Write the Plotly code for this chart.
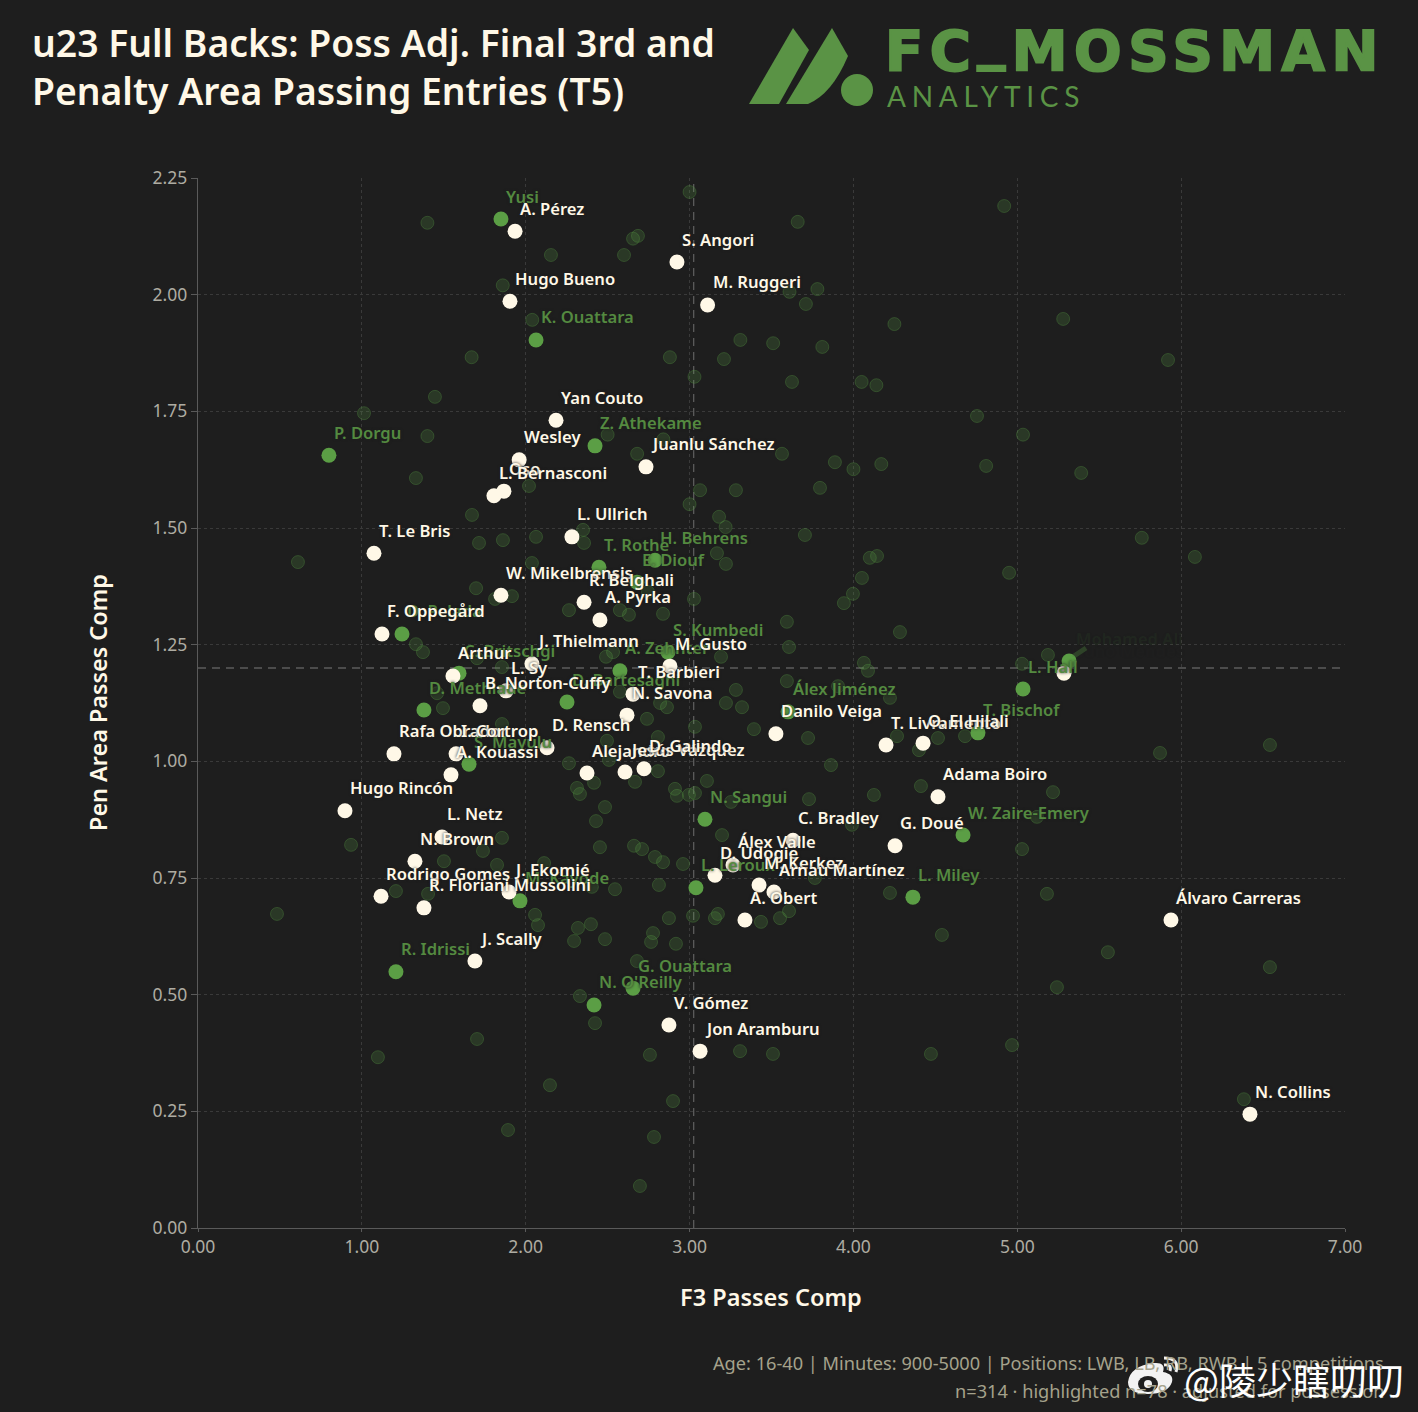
import plotly.graph_objects as go

# players who are not highlighted
bg_x = [3.00, 4.92, 3.66, 1.40, 2.685, 2.655, 2.154, 2.60, 1.86, 3.78, 3.61, 3.71, 5.28, 2.04, 4.25, 3.31, 3.51, 3.81,
        1.67, 2.88, 3.21, 5.92, 3.03, 3.625, 4.05, 4.14, 1.446, 1.013, 4.754, 1.40, 2.50, 5.035, 2.84, 2.68, 3.564,
        3.887, 4.17, 4.81, 4.0, 5.39, 1.33, 2.02, 3.796, 3.064, 3.283, 3.0, 1.672, 3.18, 3.22, 2.35, 3.704, 5.76,
        2.063, 1.861, 1.715, 2.356, 3.167, 4.144, 4.10, 6.084, 0.61, 2.038, 3.222, 4.95, 4.052, 1.697, 2.746, 3.997,
        1.916, 3.027, 1.813, 3.942, 2.264, 2.575, 2.838, 2.63, 3.594, 4.284, 1.33, 3.607, 1.373, 2.533, 5.187, 2.49,
        3.192, 1.703, 4.064, 5.029, 1.855, 4.089, 3.594, 3.906, 3.283, 2.575, 1.459, 4.223, 2.82, 3.222, 2.862, 3.32,
        1.495, 2.74, 1.855, 3.033, 3.393, 2.807, 4.266, 4.516, 4.681, 2.496, 3.723, 6.542, 4.40, 5.871, 2.508, 2.264,
        3.863, 2.807, 3.106, 2.667, 2.417, 4.412, 2.313, 2.911, 5.218, 3.033, 2.331, 2.996, 4.125, 2.923, 3.729, 3.253,
        2.484, 5.12, 2.429, 3.991, 3.198, 1.855, 0.934, 2.453, 2.661, 2.71, 5.029, 1.739, 2.789, 1.501, 2.838, 2.112,
        2.96, 1.825, 3.765, 2.813, 2.404, 2.545, 1.208, 4.223, 1.404, 5.181, 3.607, 0.482, 3.173, 2.057, 3.021, 2.874,
        3.155, 3.552, 3.436, 2.398, 2.075, 2.319, 2.777, 4.54, 2.484, 2.295, 2.765, 2.917, 5.553, 2.679, 6.542, 5.242,
        2.331, 2.423, 1.703, 4.968, 3.308, 3.509, 4.473, 2.758, 1.098, 2.148, 6.383, 2.899, 1.892, 2.783, 2.697]
bg_y = [2.22, 2.19, 2.156, 2.154, 2.126, 2.12, 2.085, 2.085, 2.02, 2.012, 2.006, 1.98, 1.948, 1.946, 1.937, 1.903, 1.896,
        1.888, 1.866, 1.866, 1.862, 1.86, 1.824, 1.813, 1.813, 1.806, 1.781, 1.746, 1.74, 1.697, 1.70, 1.70, 1.69, 1.659,
        1.659, 1.641, 1.637, 1.633, 1.626, 1.618, 1.607, 1.59, 1.586, 1.581, 1.581, 1.551, 1.528, 1.524, 1.502, 1.496,
        1.485, 1.479, 1.481, 1.474, 1.468, 1.468, 1.446, 1.44, 1.436, 1.438, 1.427, 1.425, 1.423, 1.404, 1.393, 1.371,
        1.363, 1.359, 1.354, 1.348, 1.348, 1.339, 1.324, 1.324, 1.316, 1.314, 1.299, 1.277, 1.251, 1.245, 1.234, 1.234,
        1.228, 1.224, 1.224, 1.221, 1.211, 1.209, 1.202, 1.194, 1.172, 1.161, 1.153, 1.149, 1.146, 1.136, 1.125, 1.125,
        1.116, 1.116, 1.114, 1.091, 1.08, 1.074, 1.069, 1.052, 1.054, 1.05, 1.054, 1.044, 1.05, 1.035, 1.024, 1.018,
        1.003, 0.996, 0.992, 0.979, 0.958, 0.956, 0.954, 0.947, 0.943, 0.941, 0.934, 0.932, 0.93, 0.928, 0.928, 0.926,
        0.919, 0.913, 0.902, 0.881, 0.872, 0.864, 0.842, 0.836, 0.821, 0.816, 0.819, 0.812, 0.812, 0.808, 0.795, 0.786,
        0.784, 0.782, 0.78, 0.778, 0.75, 0.735, 0.731, 0.726, 0.722, 0.718, 0.716, 0.716, 0.679, 0.673, 0.673, 0.671,
        0.669, 0.664, 0.664, 0.664, 0.656, 0.651, 0.649, 0.643, 0.632, 0.628, 0.619, 0.615, 0.613, 0.609, 0.591, 0.572,
        0.559, 0.516, 0.497, 0.439, 0.405, 0.392, 0.379, 0.373, 0.373, 0.371, 0.366, 0.306, 0.276, 0.272, 0.21, 0.195, 0.09]

# highlighted, cream
white_names = ["A. Pérez", "S. Angori", "M. Ruggeri", "Hugo Bueno", "Yan Couto", "Wesley", "Juanlu Sánchez", "Oso",
               "L. Bernasconi", "L. Ullrich", "T. Le Bris", "W. Mikelbrensis", "R. Belghali", "A. Pyrka", "F. Oppegård",
               "J. Thielmann", "M. Gusto", "Arthur", "L. Sy", "B. Norton-Cuffy", "T. Barbieri", "N. Savona", "D. Rensch",
               "Rafa Obrador", "I. Cortrop", "A. Kouassi", "Alejandro", "Jesús Vázquez", "D. Galindo", "Danilo Veiga",
               "T. Livramento", "O. El Hilali", "Adama Boiro", "C. Bradley", "G. Doué", "Álex Valle", "D. Udogie",
               "M. Kerkez", "Arnau Martínez", "A. Obert", "Álvaro Carreras", "N. Collins", "Hugo Rincón", "L. Netz",
               "N. Brown", "Rodrigo Gomes", "R. Floriani Mussolini", "J. Ekomié", "J. Scally", "V. Gómez", "Jon Aramburu"]
white_x = [1.935, 2.923, 3.11, 1.904, 2.185, 1.96, 2.734, 1.867, 1.806, 2.282, 1.074, 1.849, 2.356, 2.453, 1.123, 2.038,
           2.88, 1.556, 1.88, 1.721, 2.655, 2.618, 2.13, 1.196, 1.575, 1.544, 2.374, 2.606, 2.722, 3.527, 4.199, 4.425,
           4.516, 3.631, 4.254, 3.265, 3.155, 3.424, 3.515, 3.338, 5.938, 6.42, 0.897, 1.489, 1.324, 1.117, 1.379, 1.898,
           1.69, 2.874, 3.064]
white_y = [2.136, 2.07, 1.978, 1.986, 1.731, 1.646, 1.631, 1.579, 1.569, 1.481, 1.446, 1.356, 1.341, 1.303, 1.273, 1.209,
           1.204, 1.183, 1.151, 1.119, 1.144, 1.099, 1.029, 1.016, 1.016, 0.971, 0.975, 0.977, 0.984, 1.059, 1.035, 1.039,
           0.924, 0.831, 0.819, 0.778, 0.756, 0.735, 0.72, 0.66, 0.66, 0.244, 0.894, 0.838, 0.786, 0.711, 0.686, 0.72,
           0.572, 0.435, 0.379]

# highlighted, green
green_names = ["Yusi", "K. Ouattara", "P. Dorgu", "Z. Athekame", "H. Behrens", "T. Rothe", "E. Diouf", "D. Pelada",
               "C. Britschgi", "D. Methlade", "S. Kumbedi", "A. Zehnter", "D. Bartesaghi", "Álex Jiménez", "S. Mayulu",
               "M. Kayode", "N. Sangui", "L. Leroux", "L. Miley", "W. Zaire-Emery", "T. Bischof", "L. Hall", "R. Idrissi",
               "G. Ouattara", "N. O'Reilly"]
green_x = [1.849, 2.063, 0.799, 2.423, 2.789, 2.447, 2.679, 1.245, 1.593, 1.379, 2.868, 2.575, 2.252, 3.601, 1.654, 1.965,
           3.094, 3.039, 4.363, 4.669, 4.76, 5.035, 1.208, 2.655, 2.417]
green_y = [2.162, 1.903, 1.656, 1.676, 1.431, 1.416, 1.384, 1.273, 1.189, 1.11, 1.234, 1.194, 1.127, 1.106, 0.994, 0.701,
           0.876, 0.729, 0.709, 0.842, 1.061, 1.155, 0.549, 0.514, 0.478]

# the two points whose names are smudged out in the picture
blur_names = ["Nuno Mendes", "Mohamed Ali"]
blur_x = [5.285, 5.316]
blur_y = [1.189, 1.215]

x_ticks = [0, 1, 2, 3, 4, 5, 6, 7]
y_ticks = [0, 0.25, 0.5, 0.75, 1, 1.25, 1.5, 1.75, 2, 2.25]
x_mean = 3.025
y_mean = 1.2

BG = "#1e1e1e"
CREAM = "#fff8e7"
GREEN = "#5b9e45"
LOGO = "#5a9345"
FONT = "Noto Sans"

W, H = 1418, 1412
L, R, T, B = 198, 1345, 178, 1228


def px(x):
    return (x - L) / (R - L)


def py(y):
    return (B - y) / (B - T)


def path(*parts):
    # parts are command strings and (x, y) pixel pairs for the logo shapes
    out = []
    for p in parts:
        out.append(p if isinstance(p, str) else f"{px(p[0]):.5f},{py(p[1]):.5f}")
    return " ".join(out)


def note(fig, x, y, text, size, color, anchor="left", weight=400, family=FONT, **kw):
    fig.add_annotation(x=px(x), y=py(y), xref="paper", yref="paper", text=text, showarrow=False,
                       xanchor=anchor, yanchor="middle", borderpad=0,
                       font=dict(size=size, color=color, family=family, weight=weight), **kw)


fig = go.Figure()

fig.add_trace(go.Scatter(x=bg_x, y=bg_y, mode="markers", hoverinfo="skip",
                         marker=dict(size=13, color="rgba(91,158,69,0.2)",
                                     line=dict(color="rgba(91,158,69,0.3)", width=1))))
fig.add_trace(go.Scatter(x=green_x + blur_x[1:], y=green_y + blur_y[1:], mode="markers", text=green_names + blur_names[1:],
                         marker=dict(size=15, color=GREEN)))
fig.add_trace(go.Scatter(x=white_x + blur_x[:1], y=white_y + blur_y[:1], mode="markers", text=white_names + blur_names[:1],
                         marker=dict(size=15, color=CREAM)))

fig.add_hline(y=y_mean, line=dict(color="#5c5c5c", width=1.3, dash="8px,6px"), layer="below")
fig.add_vline(x=x_mean, line=dict(color="#5c5c5c", width=1.3, dash="8px,6px"), layer="below")

for name, x, y in zip(green_names, green_x, green_y):
    fig.add_annotation(x=x, y=y, text=name, showarrow=False, xanchor="left", yanchor="middle", xshift=4, yshift=23,
                       borderpad=0, font=dict(size=16.6, color="#548a40", family=FONT, weight=600,
                                              shadow="0 0 3px #1e1e1e"))
for name, x, y in zip(white_names, white_x, white_y):
    fig.add_annotation(x=x, y=y, text=name, showarrow=False, xanchor="left", yanchor="middle", xshift=4, yshift=23,
                       borderpad=0, font=dict(size=16.6, color=CREAM, family=FONT, weight=600,
                                              shadow="0 0 3px #1e1e1e"))

# smudged names: very faint text under a blurred shadow
for name, x, y, col in zip(blur_names, blur_x, blur_y, ["50,58,46", "91,158,69"]):
    fig.add_annotation(x=x, y=y, text=name, showarrow=False, xanchor="left", yanchor="middle", xshift=6, yshift=23,
                       borderpad=0, font=dict(size=16.6, color=f"rgba({col},0.08)", family=FONT, weight=600,
                                              shadow=f"0 0 6px rgba({col},0.35)"))
fig.add_shape(type="path", xref="paper", yref="paper", line=dict(color="rgba(91,158,69,0.3)", width=5),
              path=path("M", (1071, 658), "L", (1086, 648)))

# logo
fig.add_shape(type="path", xref="paper", yref="paper", fillcolor=LOGO, line_width=0,
              path=path("M", (749, 104), "L", (793, 28), "L", (809, 50), "L", (779, 104), "Z"))
fig.add_shape(type="path", xref="paper", yref="paper", fillcolor=LOGO, line_width=0,
              path=path("M", (786, 104), "L", (832, 28), "L", (848, 56), "Q", (832, 94), (808, 104), "Z"))
fig.add_shape(type="circle", xref="paper", yref="paper", fillcolor=LOGO, line_width=0,
              x0=px(841), x1=px(873), y0=py(106), y1=py(74))
note(fig, 884, 44,
     '<span style="letter-spacing:6.5px;stroke:#5a9345;stroke-width:2px">FC<span style="baseline-shift:12px">_</span>MOSSMAN</span>',
     56, LOGO, weight=700, family="DejaVu Sans")
note(fig, 886, 96, '<span style="letter-spacing:5.7px">ANALYTICS</span>', 28, LOGO, family="Lato")

# watermark logo
fig.add_shape(type="path", xref="paper", yref="paper", fillcolor="#f2f2f2", line_width=0,
              path=path("M", (1128, 1382), "Q", (1130, 1366), (1154, 1363), "Q", (1166, 1362), (1163, 1372),
                        "Q", (1174, 1374), (1172, 1382), "Q", (1168, 1394), (1148, 1394), "Q", (1128, 1394), (1128, 1382), "Z"))
fig.add_shape(type="circle", xref="paper", yref="paper", fillcolor=BG, line_width=0,
              x0=px(1138), x1=px(1158), y0=py(1392), y1=py(1376))
fig.add_shape(type="circle", xref="paper", yref="paper", fillcolor="#f2f2f2", line_width=0,
              x0=px(1144), x1=px(1152), y0=py(1388), y1=py(1380))
for a, b, c in [((1164, 1358), (1180, 1358), (1176, 1372)), ((1164, 1365), (1172, 1364), (1170, 1371))]:
    fig.add_shape(type="path", xref="paper", yref="paper", line=dict(color="#f2f2f2", width=3),
                  path=path("M", a, "Q", b, c))

note(fig, 1385, 1363, "Age: 16-40 | Minutes: 900-5000 | Positions: LWB, LB, RB, RWB | 5 competitions", 18.2, "#a5a28c", anchor="right")
note(fig, 1385, 1391, "n=314 · highlighted n=78 · adjusted for possession", 18.2, "#a5a28c", anchor="right")
note(fig, 1183, 1379, "@陵少瞎叨叨", 37, "#ffffff", family="Noto Sans CJK SC")

note(fig, 771, 1297, "F3 Passes Comp", 23.5, CREAM, anchor="center", weight=600)
note(fig, 98, 703, "Pen Area Passes Comp", 23.4, CREAM, anchor="center", weight=600, textangle=-90)

fig.update_layout(
    width=W, height=H, showlegend=False, paper_bgcolor=BG, plot_bgcolor=BG,
    margin=dict(l=L, r=W - R, t=T, b=H - B),
    title=dict(text="u23 Full Backs: Poss Adj. Final 3rd and<br>Penalty Area Passing Entries (T5)",
               x=32 / W, xanchor="left", y=1 - 57 / H, yanchor="top",
               font=dict(size=37.3, color=CREAM, family=FONT, weight=600)),
)
axis = dict(showline=True, linecolor="#5a5a5a", linewidth=1.3, ticks="outside", tickcolor="#5a5a5a",
            showgrid=True, gridcolor="#3a3a3a", griddash="3px,3px", gridwidth=1, zeroline=False,
            tickformat=".2f", tickfont=dict(size=17.5, color="#aeaca2", family=FONT))
fig.update_xaxes(range=[0, 7], tickvals=x_ticks, ticklen=3, **axis)
fig.update_yaxes(range=[0, 2.25], tickvals=y_ticks, ticklen=6, **axis)

fig.write_html("out.html", config={"displayModeBar": False},
               post_script="document.body.style.margin='0';document.body.style.overflow='hidden';")
